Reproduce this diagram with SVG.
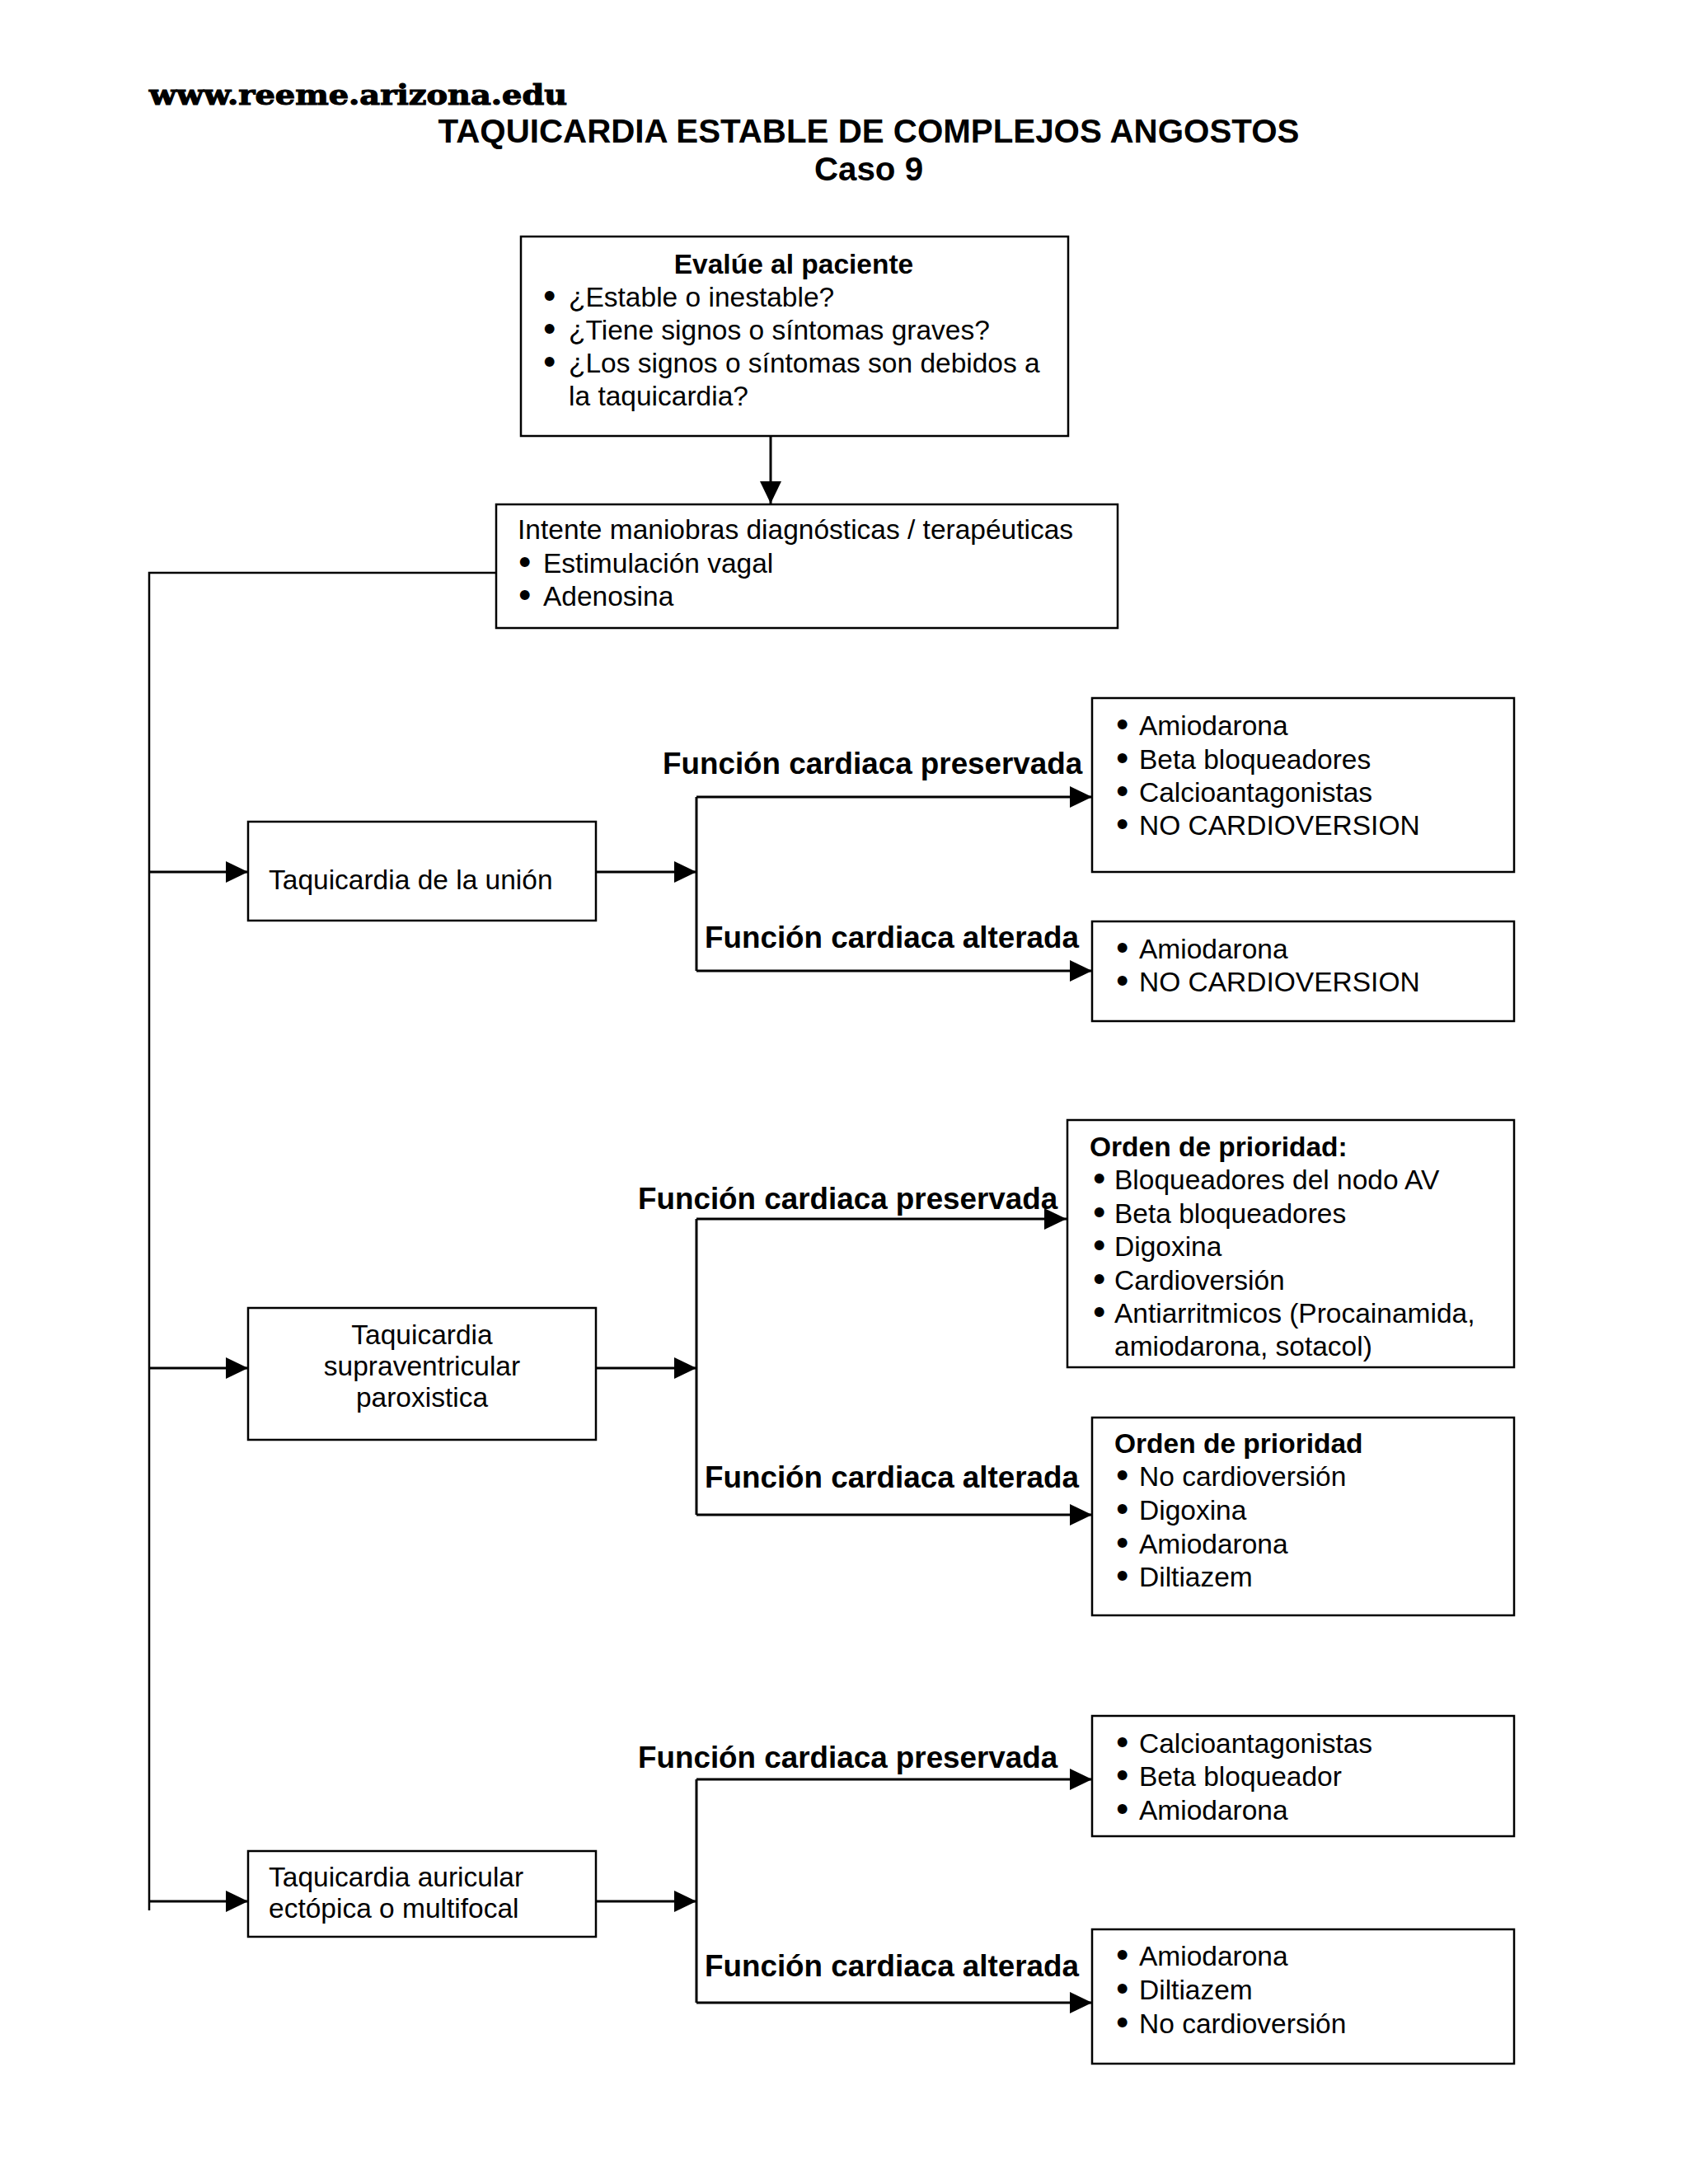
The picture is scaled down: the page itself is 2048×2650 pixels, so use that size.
<svg xmlns="http://www.w3.org/2000/svg" width="2048" height="2650" viewBox="0 0 2048 2650">
<defs>
<style>
.box{fill:#fff;stroke:#000;stroke-width:2.5}
.t{font-family:"Liberation Sans",Arial,sans-serif;font-size:33.5px;fill:#000}
.bu{font-family:"DejaVu Sans","Liberation Sans",sans-serif;font-weight:bold;font-size:33.5px}
.b{font-family:"Liberation Sans",Arial,sans-serif;font-size:33.5px;font-weight:bold;fill:#000}
.lbl{font-family:"Liberation Sans",Arial,sans-serif;font-size:36.8px;font-weight:bold;fill:#000}
.ttl{font-family:"Liberation Sans",Arial,sans-serif;font-size:40.3px;font-weight:bold;fill:#000}
.web{font-family:"DejaVu Serif","Liberation Serif",serif;font-size:34px;font-weight:bold;fill:#000;stroke:#000;stroke-width:1.2}
.c{fill:none;stroke:#000;stroke-width:3}
.m{text-anchor:middle}
</style>
<marker id="ah" markerUnits="userSpaceOnUse" markerWidth="28" markerHeight="26" refX="27" refY="13" orient="auto">
<path d="M0,0 L27,13 L0,26 Z" fill="#000"/>
</marker>
</defs>
<rect width="2048" height="2650" fill="#fff"/>

<g id="header">
<text class="web" x="181" y="127" textLength="507" lengthAdjust="spacingAndGlyphs">www.reeme.arizona.edu</text>
<text class="ttl m" x="1054" y="173">TAQUICARDIA ESTABLE DE COMPLEJOS ANGOSTOS</text>
<text class="ttl m" x="1054" y="219">Caso 9</text>
</g>

<g id="connectors">
<line class="c" x1="935" y1="529" x2="935" y2="611" marker-end="url(#ah)"/>
<polyline class="c" points="601,695 181,695 181,2318" style="stroke-width:2.5"/>
<line class="c" x1="181" y1="1058" x2="301" y2="1058" marker-end="url(#ah)"/>
<line class="c" x1="723" y1="1058" x2="845" y2="1058" marker-end="url(#ah)"/>
<line class="c" x1="845" y1="967" x2="845" y2="1178"/>
<line class="c" x1="845" y1="967" x2="1325" y2="967" marker-end="url(#ah)"/>
<line class="c" x1="845" y1="1178" x2="1325" y2="1178" marker-end="url(#ah)"/>
<line class="c" x1="181" y1="1660" x2="301" y2="1660" marker-end="url(#ah)"/>
<line class="c" x1="723" y1="1660" x2="845" y2="1660" marker-end="url(#ah)"/>
<line class="c" x1="845" y1="1479" x2="845" y2="1838"/>
<line class="c" x1="845" y1="1479" x2="1294" y2="1479" marker-end="url(#ah)"/>
<line class="c" x1="845" y1="1838" x2="1325" y2="1838" marker-end="url(#ah)"/>
<line class="c" x1="181" y1="2307" x2="301" y2="2307" marker-end="url(#ah)"/>
<line class="c" x1="723" y1="2307" x2="845" y2="2307" marker-end="url(#ah)"/>
<line class="c" x1="845" y1="2159" x2="845" y2="2430"/>
<line class="c" x1="845" y1="2159" x2="1325" y2="2159" marker-end="url(#ah)"/>
<line class="c" x1="845" y1="2430" x2="1325" y2="2430" marker-end="url(#ah)"/>
</g>

<g id="labels">
<text class="lbl" x="804" y="939">Función cardiaca preservada</text>
<text class="lbl" x="855" y="1150">Función cardiaca alterada</text>
<text class="lbl" x="774" y="1467">Función cardiaca preservada</text>
<text class="lbl" x="855" y="1805">Función cardiaca alterada</text>
<text class="lbl" x="774" y="2145">Función cardiaca preservada</text>
<text class="lbl" x="855" y="2398">Función cardiaca alterada</text>
</g>

<g id="evalue">
<rect class="box" x="632" y="287" width="664" height="242"/>
<text class="b m" x="963" y="332">Evalúe al paciente</text>
<text class="t" x="656" y="372"><tspan class="bu">•</tspan><tspan x="690">¿Estable o inestable?</tspan></text>
<text class="t" x="656" y="412"><tspan class="bu">•</tspan><tspan x="690">¿Tiene signos o síntomas graves?</tspan></text>
<text class="t" x="656" y="452"><tspan class="bu">•</tspan><tspan x="690">¿Los signos o síntomas son debidos a</tspan></text>
<text class="t" x="690" y="492">la taquicardia?</text>
</g>

<g id="maniobras">
<rect class="box" x="602" y="612" width="754" height="150"/>
<text class="t" x="628" y="654">Intente maniobras diagnósticas / terapéuticas</text>
<text class="t" x="626" y="695"><tspan class="bu">•</tspan><tspan x="659">Estimulación vagal</tspan></text>
<text class="t" x="626" y="735"><tspan class="bu">•</tspan><tspan x="659">Adenosina</tspan></text>
</g>

<g id="union">
<rect class="box" x="301" y="997" width="422" height="120"/>
<text class="t" x="326" y="1079">Taquicardia de la unión</text>
</g>

<g id="union-preservada">
<rect class="box" x="1325" y="847" width="512" height="211"/>
<text class="t" x="1351" y="892"><tspan class="bu">•</tspan><tspan x="1382">Amiodarona</tspan></text>
<text class="t" x="1351" y="933"><tspan class="bu">•</tspan><tspan x="1382">Beta bloqueadores</tspan></text>
<text class="t" x="1351" y="973"><tspan class="bu">•</tspan><tspan x="1382">Calcioantagonistas</tspan></text>
<text class="t" x="1351" y="1013"><tspan class="bu">•</tspan><tspan x="1382">NO CARDIOVERSION</tspan></text>
</g>

<g id="union-alterada">
<rect class="box" x="1325" y="1118" width="512" height="121"/>
<text class="t" x="1351" y="1163"><tspan class="bu">•</tspan><tspan x="1382">Amiodarona</tspan></text>
<text class="t" x="1351" y="1203"><tspan class="bu">•</tspan><tspan x="1382">NO CARDIOVERSION</tspan></text>
</g>

<g id="tsvp">
<rect class="box" x="301" y="1587" width="422" height="160"/>
<text class="t m" x="512" y="1631">Taquicardia</text>
<text class="t m" x="512" y="1669">supraventricular</text>
<text class="t m" x="512" y="1707">paroxistica</text>
</g>

<g id="tsvp-preservada">
<rect class="box" x="1295" y="1359" width="542" height="300"/>
<text class="b" x="1322" y="1403">Orden de prioridad:</text>
<text class="t" x="1323" y="1443"><tspan class="bu">•</tspan><tspan x="1352">Bloqueadores del nodo AV</tspan></text>
<text class="t" x="1323" y="1484"><tspan class="bu">•</tspan><tspan x="1352">Beta bloqueadores</tspan></text>
<text class="t" x="1323" y="1524"><tspan class="bu">•</tspan><tspan x="1352">Digoxina</tspan></text>
<text class="t" x="1323" y="1565"><tspan class="bu">•</tspan><tspan x="1352">Cardioversión</tspan></text>
<text class="t" x="1323" y="1605"><tspan class="bu">•</tspan><tspan x="1352">Antiarritmicos (Procainamida,</tspan></text>
<text class="t" x="1352" y="1645">amiodarona, sotacol)</text>
</g>

<g id="tsvp-alterada">
<rect class="box" x="1325" y="1720" width="512" height="240"/>
<text class="b" x="1352" y="1763">Orden de prioridad</text>
<text class="t" x="1351" y="1803"><tspan class="bu">•</tspan><tspan x="1382">No cardioversión</tspan></text>
<text class="t" x="1351" y="1844"><tspan class="bu">•</tspan><tspan x="1382">Digoxina</tspan></text>
<text class="t" x="1351" y="1885"><tspan class="bu">•</tspan><tspan x="1382">Amiodarona</tspan></text>
<text class="t" x="1351" y="1925"><tspan class="bu">•</tspan><tspan x="1382">Diltiazem</tspan></text>
</g>

<g id="auricular">
<rect class="box" x="301" y="2246" width="422" height="104"/>
<text class="t" x="326" y="2289">Taquicardia auricular</text>
<text class="t" x="326" y="2327">ectópica o multifocal</text>
</g>

<g id="auricular-preservada">
<rect class="box" x="1325" y="2082" width="512" height="146"/>
<text class="t" x="1351" y="2127"><tspan class="bu">•</tspan><tspan x="1382">Calcioantagonistas</tspan></text>
<text class="t" x="1351" y="2167"><tspan class="bu">•</tspan><tspan x="1382">Beta bloqueador</tspan></text>
<text class="t" x="1351" y="2208"><tspan class="bu">•</tspan><tspan x="1382">Amiodarona</tspan></text>
</g>

<g id="auricular-alterada">
<rect class="box" x="1325" y="2341" width="512" height="163"/>
<text class="t" x="1351" y="2385"><tspan class="bu">•</tspan><tspan x="1382">Amiodarona</tspan></text>
<text class="t" x="1351" y="2426"><tspan class="bu">•</tspan><tspan x="1382">Diltiazem</tspan></text>
<text class="t" x="1351" y="2467"><tspan class="bu">•</tspan><tspan x="1382">No cardioversión</tspan></text>
</g>
</svg>
